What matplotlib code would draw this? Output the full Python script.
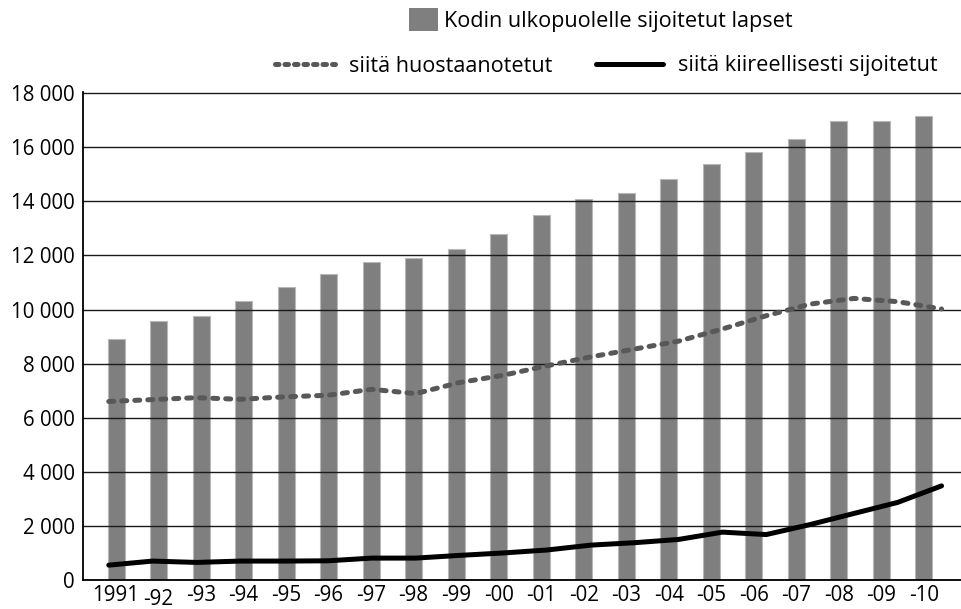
#! /usr/bin/env python3
# -*- coding: utf-8 -*-
import numpy as np
import matplotlib
matplotlib.use('Agg')
import matplotlib.pyplot as plt
import matplotlib.transforms as mtrans
from matplotlib.patches import Patch
from matplotlib.lines import Line2D


year_labels = ['1991', '-92', '-93', '-94', '-95', '-96', '-97', '-98', '-99', '-00',
               '-01', '-02', '-03', '-04', '-05', '-06', '-07', '-08', '-09', '-10']
placed_total = [8900, 9560, 9770, 10300, 10820, 11300, 11770, 11900, 12240, 12790,
                13500, 14100, 14300, 14840, 15370, 15840, 16300, 16960, 16960, 17160]
taken_into_care = [6600, 6670, 6740, 6680, 6770, 6830, 7050, 6890, 7300, 7570,
                   7920, 8250, 8540, 8830, 9280, 9770, 10200, 10410, 10290, 10020]
emergency_placed = [550, 700, 650, 700, 700, 710, 810, 810, 910, 1000,
                    1110, 1290, 1380, 1500, 1770, 1680, 2050, 2460, 2870, 3480]
y_ticks = [0, 2000, 4000, 6000, 8000, 10000, 12000, 14000, 16000, 18000]

label_bars = 'Kodin ulkopuolelle sijoitetut lapset'
label_care = 'siitä huostaanotetut'
label_emerg = 'siitä kiireellisesti sijoitetut'

BAR_COLOR = '#7f7f7f'
CARE_COLOR = '#58585a'
FONT = 'Open Sans'
FS_TICK = 14.8
FS_LEG = 15.6


def fmt_thousands(v):
    return '{:,}'.format(int(v)).replace(',', ' ')


def plot_placements():
    plt.rcParams['font.family'] = [FONT, 'DejaVu Sans']
    fig = plt.figure(figsize=(9.62, 6.09), dpi=100)
    ax = fig.add_axes([0.0863, 0.0476, 0.9137, 0.8013])

    x = np.arange(len(year_labels))
    ax.bar(x, placed_total, width=0.4, color=BAR_COLOR, edgecolor='#b8b8b8', lw=0.8, zorder=1)

    # the lines in the original are slightly stretched relative to the bars
    x_line = x * 1.031 - 0.17
    ax.plot(x_line, taken_into_care, color=CARE_COLOR, lw=3.6, dashes=(1.0, 1.6),
            dash_capstyle='round', solid_capstyle='round', zorder=3)
    ax.plot(x_line, emergency_placed, color='black', lw=3.6,
            solid_capstyle='round', solid_joinstyle='round', zorder=4)

    ax.set_xlim(-0.776, 19.9)
    ax.set_ylim(0, 18040)
    ax.set_yticks(y_ticks)
    ax.set_yticklabels([fmt_thousands(v) for v in y_ticks], fontsize=FS_TICK)
    ax.set_xticks(x)
    ax.set_xticklabels(year_labels, fontsize=FS_TICK)
    ax.tick_params(axis='y', length=0, pad=6)
    ax.tick_params(axis='x', length=0, pad=3.5)

    # '-92' sits a little lower in the original
    lbl = ax.get_xticklabels()[1]
    lbl.set_transform(lbl.get_transform() + mtrans.ScaledTranslation(0, -2.8 / 72, fig.dpi_scale_trans))

    ax.set_axisbelow('line')
    ax.yaxis.grid(True, color='#1a1a1a', lw=1.0)
    for side in ['top', 'right']:
        ax.spines[side].set_visible(False)
    for side in ['left', 'bottom']:
        ax.spines[side].set_color('black')
        ax.spines[side].set_linewidth(1.3)

    common = dict(frameon=False, borderpad=0, borderaxespad=0, fontsize=FS_LEG, loc='center left')
    h1 = [Patch(facecolor=BAR_COLOR, edgecolor='none')]
    fig.legend(h1, [label_bars], bbox_to_anchor=(409 / 962, 1 - 20 / 609),
               handlelength=1.35, handleheight=1.2, handletextpad=0.25, **common)
    h2 = [Line2D([], [], color=CARE_COLOR, lw=3.6, dashes=(0.7, 1.2), dash_capstyle='round')]
    fig.legend(h2, [label_care], bbox_to_anchor=(275 / 962, 1 - 66 / 609),
               handlelength=2.75, handletextpad=0.65, **common)
    h3 = [Line2D([], [], color='black', lw=3.6, solid_capstyle='round')]
    fig.legend(h3, [label_emerg], bbox_to_anchor=(596 / 962, 1 - 66 / 609),
               handlelength=3.1, handletextpad=0.7, **common)

    fig.savefig('out.png', dpi=100)


def main():
    plot_placements()


if __name__ == '__main__':
    main()
